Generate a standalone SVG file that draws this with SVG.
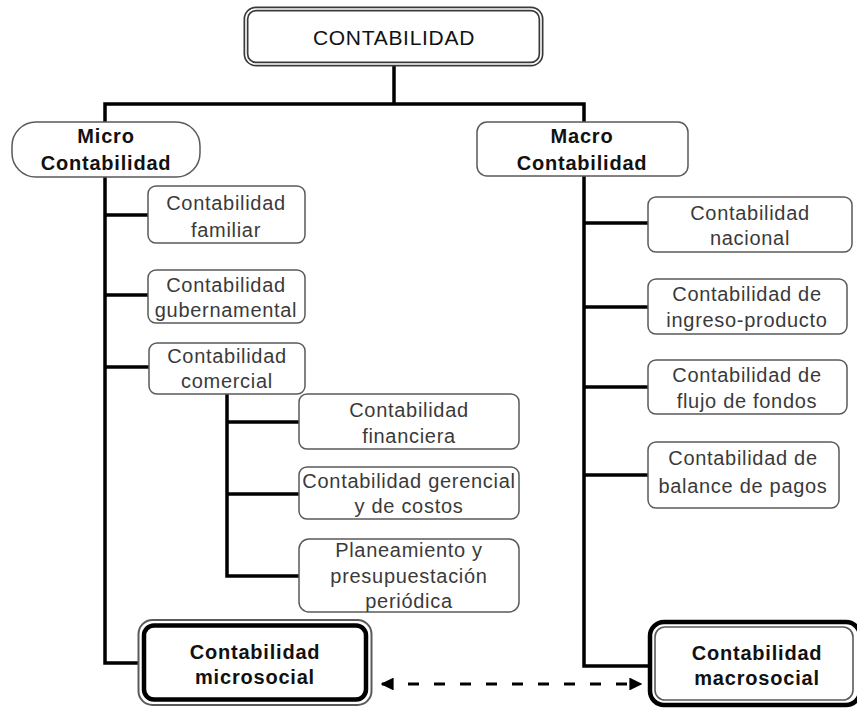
<svg xmlns="http://www.w3.org/2000/svg" width="857" height="708" viewBox="0 0 857 708">
<defs>
<style>
.box{fill:#fff;stroke:#5a5a5a;stroke-width:1.5}
.t{font-family:"Liberation Sans",Arial,sans-serif;font-size:20px;letter-spacing:0.7px;fill:#3a3a3a;text-anchor:middle}
.b{font-family:"Liberation Sans",Arial,sans-serif;font-size:20px;font-weight:bold;letter-spacing:0.8px;fill:#111;text-anchor:middle}
.top{font-family:"Liberation Sans",Arial,sans-serif;font-size:21px;letter-spacing:0.7px;fill:#111;text-anchor:middle}
.c{fill:none;stroke:#000;stroke-width:3.5;stroke-linejoin:miter}
.d{fill:none;stroke:#000;stroke-width:3;stroke-dasharray:11 15}
</style>
<marker id="ah" viewBox="0 0 10 10" refX="9" refY="5" markerWidth="4.3" markerHeight="4.3" orient="auto-start-reverse" markerUnits="strokeWidth">
<path d="M0 0 L10 5 L0 10 Z" fill="#000"/>
</marker>
</defs>
<rect width="857" height="708" fill="#fff"/>
<g id="connectors">
<path class="c" d="M394 66 V104"/>
<path class="c" d="M105 125 V104 H584 V125"/>
<path class="c" d="M105 175 V663 H139"/>
<path class="c" d="M105 215 H148"/>
<path class="c" d="M105 295 H148"/>
<path class="c" d="M105 367 H149"/>
<path class="c" d="M227 393 V576 H299"/>
<path class="c" d="M227 422 H299"/>
<path class="c" d="M227 494 H299"/>
<path class="c" d="M584 174 V666 H648"/>
<path class="c" d="M584 223 H648"/>
<path class="c" d="M584 307 H648"/>
<path class="c" d="M584 387 H648"/>
<path class="c" d="M584 475 H648"/>
<path class="d" d="M382 684 H641" marker-start="url(#ah)" marker-end="url(#ah)"/>
</g>
<g id="contabilidad">
<rect x="246" y="9" width="295" height="55" rx="10" fill="#fff" stroke="#3a3a3a" stroke-width="5"/>
<rect x="246" y="9" width="295" height="55" rx="10" fill="none" stroke="#fff" stroke-width="1.6"/>
<text class="top" x="394" y="45">CONTABILIDAD</text>
</g>
<g id="micro">
<rect class="box" x="12" y="122" width="188" height="55" rx="24"/>
<text class="b" x="106" y="143">Micro</text>
<text class="b" x="106" y="170">Contabilidad</text>
</g>
<g id="macro">
<rect class="box" x="477" y="122" width="211" height="54" rx="10"/>
<text class="b" x="582" y="143">Macro</text>
<text class="b" x="582" y="170">Contabilidad</text>
</g>
<g id="familiar">
<rect class="box" x="148" y="186" width="157" height="57" rx="8"/>
<text class="t" x="226" y="210">Contabilidad</text>
<text class="t" x="226" y="237">familiar</text>
</g>
<g id="gubernamental">
<rect class="box" x="148" y="270" width="157" height="53" rx="8"/>
<text class="t" x="226" y="292">Contabilidad</text>
<text class="t" x="226" y="317">gubernamental</text>
</g>
<g id="comercial">
<rect class="box" x="149" y="343" width="156" height="51" rx="8"/>
<text class="t" x="227" y="363">Contabilidad</text>
<text class="t" x="227" y="388">comercial</text>
</g>
<g id="financiera">
<rect class="box" x="299" y="394" width="220" height="55" rx="8"/>
<text class="t" x="409" y="417">Contabilidad</text>
<text class="t" x="409" y="443">financiera</text>
</g>
<g id="gerencial">
<rect class="box" x="299" y="467" width="220" height="52" rx="8"/>
<text class="t" x="409" y="488">Contabilidad gerencial</text>
<text class="t" x="409" y="513">y de costos</text>
</g>
<g id="planeamiento">
<rect class="box" x="299" y="539" width="220" height="73" rx="10"/>
<text class="t" x="409" y="557">Planeamiento y</text>
<text class="t" x="409" y="583">presupuestación</text>
<text class="t" x="409" y="608">periódica</text>
</g>
<g id="nacional">
<rect class="box" x="648" y="197" width="204" height="55" rx="8"/>
<text class="t" x="750" y="220">Contabilidad</text>
<text class="t" x="750" y="245">nacional</text>
</g>
<g id="ingreso">
<rect class="box" x="648" y="279" width="199" height="55" rx="8"/>
<text class="t" x="747" y="301">Contabilidad de</text>
<text class="t" x="747" y="327">ingreso-producto</text>
</g>
<g id="flujo">
<rect class="box" x="648" y="360" width="199" height="54" rx="8"/>
<text class="t" x="747" y="382">Contabilidad de</text>
<text class="t" x="747" y="408">flujo de fondos</text>
</g>
<g id="balance">
<rect class="box" x="648" y="442" width="191" height="66" rx="8"/>
<text class="t" x="743" y="465">Contabilidad de</text>
<text class="t" x="743" y="493">balance de pagos</text>
</g>
<g id="microsocial">
<rect x="138.5" y="620" width="233" height="85" rx="14" fill="#fff" stroke="#5a5a5a" stroke-width="2"/>
<rect x="144" y="625.5" width="222" height="74" rx="10" fill="#fff" stroke="#000" stroke-width="4.5"/>
<text class="b" x="255" y="659">Contabilidad</text>
<text class="b" x="255" y="684">microsocial</text>
</g>
<g id="macrosocial">
<rect x="650" y="622" width="210" height="83" rx="14" fill="#fff" stroke="#000" stroke-width="4.5"/>
<rect x="655" y="627" width="198" height="73" rx="10" fill="none" stroke="#5a5a5a" stroke-width="1.6"/>
<text class="b" x="757" y="660">Contabilidad</text>
<text class="b" x="757" y="685">macrosocial</text>
</g>
</svg>
